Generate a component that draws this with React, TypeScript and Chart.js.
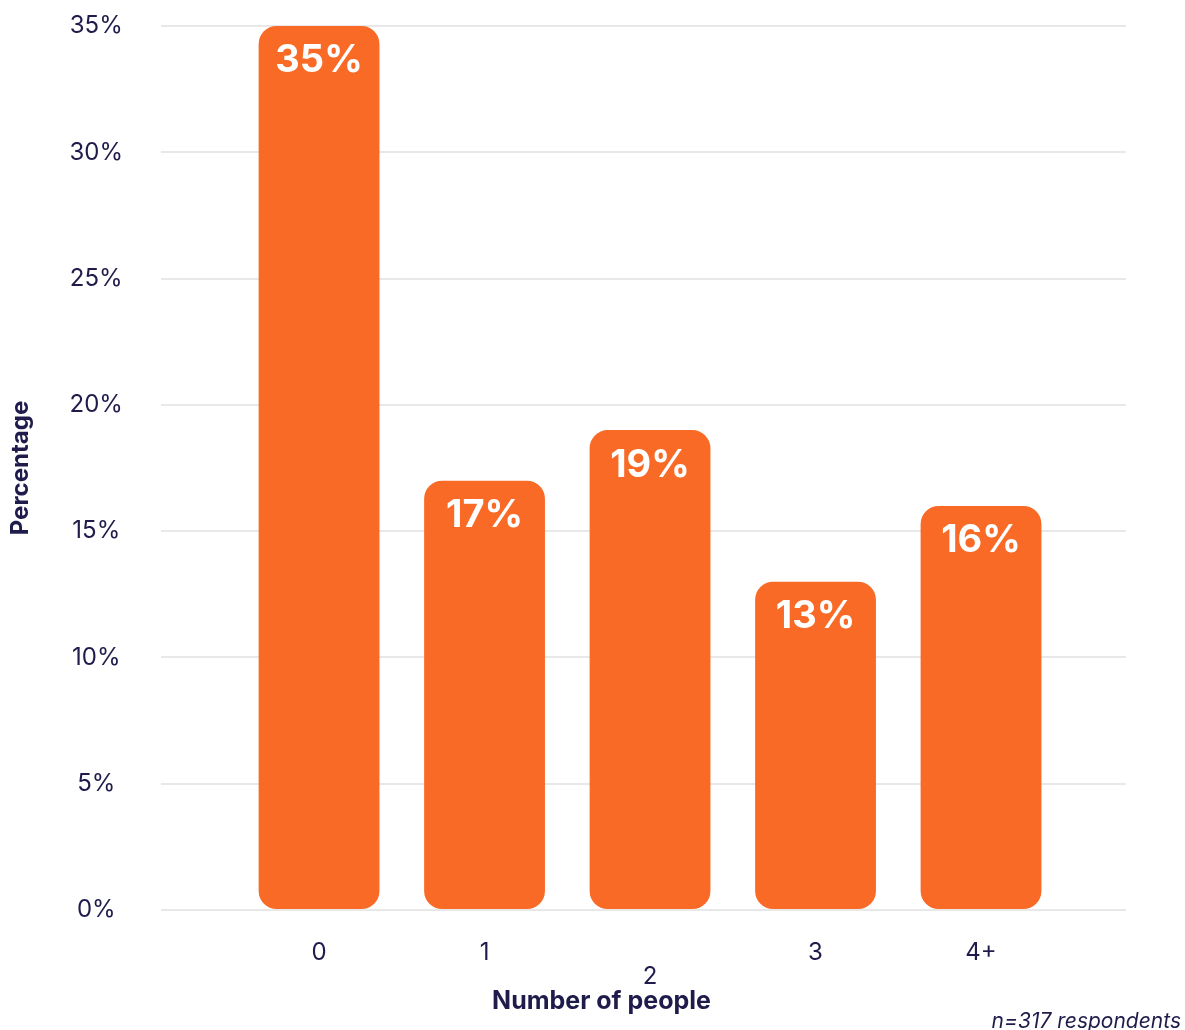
import React, { useEffect, useRef } from 'react';
import { Chart, registerables } from 'chart.js';

Chart.register(...registerables);

const categories = ['0', '1', '2', '3', '4+'];
const percentages = [35, 17, 19, 13, 16];
const yTicks = [0, 5, 10, 15, 20, 25, 30, 35];
const yAxisTitle = 'Percentage';
const xAxisTitle = 'Number of people';
const footnote = 'n=317 respondents';

const NAVY = '#1F1C4C';
const ORANGE = '#F86A25';
const GRID = '#E8E8E8';
const FONT = 'Inter, "Noto Sans", sans-serif';

const barLabelPlugin = {
  id: 'barLabels',
  afterDatasetsDraw(chart: any) {
    const { ctx } = chart;
    const meta = chart.getDatasetMeta(0);
    ctx.save();
    ctx.fillStyle = '#FFFFFF';
    ctx.font = `bold 38px ${FONT}`;
    ctx.textAlign = 'center';
    ctx.textBaseline = 'middle';
    meta.data.forEach((el: any, i: number) => {
      ctx.fillText(`${percentages[i]}%`, el.x, el.y + 35);
    });
    ctx.restore();
  },
};

const textPlugin = {
  id: 'extraText',
  afterDraw(chart: any) {
    const { ctx, chartArea } = chart;
    ctx.save();
    ctx.fillStyle = NAVY;
    ctx.font = `bold 25px ${FONT}`;
    ctx.textAlign = 'center';
    ctx.textBaseline = 'middle';
    ctx.fillText(xAxisTitle, (chartArea.left + chartArea.right) / 2 - 42, chart.height - 29);
    ctx.font = `italic 21px ${FONT}`;
    ctx.textAlign = 'right';
    ctx.textBaseline = 'alphabetic';
    ctx.fillText(footnote, chart.width - 4, chart.height - 2);
    ctx.restore();
  },
};

export default function App() {
  const canvasRef = useRef<HTMLCanvasElement | null>(null);

  useEffect(() => {
    if (!canvasRef.current) return;
    const chart = new Chart(canvasRef.current, {
      type: 'bar',
      data: {
        datasets: [
          {
            data: percentages.map((v, i) => ({ x: i, y: v })),
            backgroundColor: ORANGE,
            borderRadius: 18,
            borderSkipped: false,
            barPercentage: 0.73,
            categoryPercentage: 1,
          },
        ],
      },
      options: {
        animation: false,
        responsive: false,
        devicePixelRatio: 1,
        layout: { padding: { top: 26, right: 59, left: 0, bottom: 45 } },
        scales: {
          x: {
            type: 'linear',
            offset: false,
            min: -0.955,
            max: 4.876,
            grid: { display: false, drawTicks: false },
            border: { display: false },
            afterBuildTicks: (axis: any) => {
              axis.ticks = categories.map((_, i) => ({ value: i }));
            },
            afterFit: (axis: any) => {
              axis.paddingLeft = 0;
              axis.paddingRight = 0;
              axis.height = 75;
            },
            ticks: {
              padding: 31,
              color: NAVY,
              autoSkip: false,
              maxRotation: 0,
              font: { family: FONT, size: 24, lineHeight: 1.0 },
              callback: (v: any) => {
                const i = Math.round(Number(v));
                const label = categories[i];
                return i === 2 ? ['', label] : label;
              },
            },
          },
          y: {
            min: 0,
            max: 35,
            afterBuildTicks: (axis: any) => {
              axis.ticks = yTicks.map((v) => ({ value: v }));
            },
            afterFit: (axis: any) => {
              axis.width = 161;
              axis.paddingTop = 0;
              axis.paddingBottom = 0;
            },
            grid: { color: GRID, lineWidth: 2, drawTicks: false },
            border: { display: false },
            ticks: {
              crossAlign: 'center',
              padding: 38,
              color: NAVY,
              font: { family: FONT, size: 24 },
              callback: (v: any) => `${v}%`,
            },
            title: {
              display: true,
              text: yAxisTitle,
              color: NAVY,
              font: { family: FONT, size: 24, weight: 'bold', lineHeight: 1.2 },
              padding: { top: 6, bottom: 10 },
            },
          },
        },
        plugins: {
          legend: { display: false },
          tooltip: { enabled: false },
          title: { display: false },
        },
      },
      plugins: [barLabelPlugin, textPlugin],
    } as any);
    return () => chart.destroy();
  }, []);

  return (
    <div style={{ position: 'absolute', left: 0, top: 0, width: 1185, height: 1030, background: '#fff' }}>
      <canvas ref={canvasRef} width={1185} height={1030} />
    </div>
  );
}
